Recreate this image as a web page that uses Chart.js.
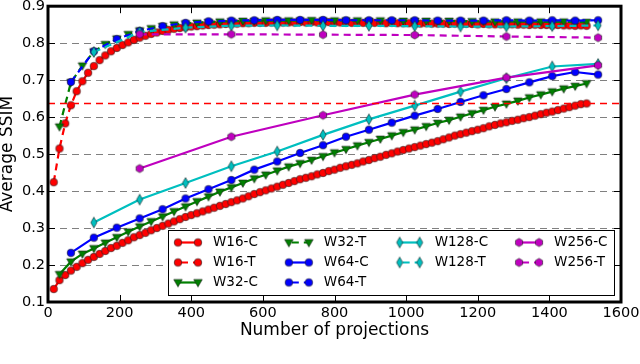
<!DOCTYPE html>
<html lang="en">
<head>
<meta charset="UTF-8">
<title>Average SSIM vs number of projections</title>
<script src="https://cdn.jsdelivr.net/npm/chart.js"></script>
<style>
  html, body { margin: 0; padding: 0; background: #fff; }
  #wrap { width: 640px; height: 364px; }
</style>
</head>
<body>
<div id="wrap"><canvas id="chart" width="640" height="364"></canvas></div>
<script>
// ---- data ----
const xTickValues = [0, 200, 400, 600, 800, 1000, 1200, 1400, 1600];
const xTickLabels = ['0', '200', '400', '600', '800', '1000', '1200', '1400', '1600'];
const yTickValues = [0.1, 0.2, 0.3, 0.4, 0.5, 0.6, 0.7, 0.8, 0.9];
const yTickLabels = ['0.1', '0.2', '0.3', '0.4', '0.5', '0.6', '0.7', '0.8', '0.9'];

const proj16 = [
  16, 32, 48, 64, 80, 96, 112, 128, 144, 160, 176, 192, 208, 224, 240, 256,
  272, 288, 304, 320, 336, 352, 368, 384, 400, 416, 432, 448, 464, 480, 496, 512,
  528, 544, 560, 576, 592, 608, 624, 640, 656, 672, 688, 704, 720, 736, 752, 768,
  784, 800, 816, 832, 848, 864, 880, 896, 912, 928, 944, 960, 976, 992, 1008, 1024,
  1040, 1056, 1072, 1088, 1104, 1120, 1136, 1152, 1168, 1184, 1200, 1216, 1232, 1248, 1264, 1280,
  1296, 1312, 1328, 1344, 1360, 1376, 1392, 1408, 1424, 1440, 1456, 1472, 1488, 1504
];
const w16C = [
  0.135, 0.159, 0.173, 0.185, 0.195, 0.205, 0.214, 0.222, 0.230, 0.238, 0.246, 0.252, 0.260, 0.267, 0.275, 0.281,
  0.287, 0.294, 0.300, 0.306, 0.312, 0.318, 0.324, 0.330, 0.335, 0.340, 0.345, 0.350, 0.355, 0.360, 0.365, 0.370,
  0.375, 0.380, 0.386, 0.392, 0.397, 0.402, 0.407, 0.412, 0.417, 0.422, 0.427, 0.432, 0.436, 0.440, 0.445, 0.449,
  0.454, 0.458, 0.463, 0.467, 0.471, 0.475, 0.480, 0.484, 0.489, 0.493, 0.498, 0.502, 0.507, 0.511, 0.515, 0.519,
  0.523, 0.527, 0.531, 0.535, 0.540, 0.545, 0.550, 0.554, 0.558, 0.562, 0.566, 0.570, 0.575, 0.579, 0.583, 0.586,
  0.590, 0.593, 0.597, 0.600, 0.604, 0.608, 0.612, 0.615, 0.619, 0.623, 0.627, 0.631, 0.635, 0.637
];
const w16T = [
  0.424, 0.515, 0.583, 0.632, 0.670, 0.697, 0.720, 0.738, 0.754, 0.767, 0.778, 0.787, 0.795, 0.802, 0.809, 0.815,
  0.820, 0.825, 0.829, 0.833, 0.836, 0.839, 0.841, 0.843, 0.845, 0.846, 0.848, 0.849, 0.850, 0.851, 0.852, 0.853,
  0.853, 0.854, 0.854, 0.855, 0.855, 0.855, 0.856, 0.856, 0.856, 0.856, 0.856, 0.857, 0.856, 0.857, 0.856, 0.856,
  0.857, 0.856, 0.856, 0.856, 0.855, 0.856, 0.855, 0.855, 0.855, 0.855, 0.854, 0.855, 0.854, 0.854, 0.854, 0.854,
  0.853, 0.854, 0.853, 0.853, 0.853, 0.852, 0.853, 0.852, 0.852, 0.852, 0.851, 0.852, 0.851, 0.851, 0.851, 0.850,
  0.851, 0.850, 0.850, 0.849, 0.850, 0.849, 0.849, 0.848, 0.849, 0.848, 0.848, 0.847, 0.848, 0.847
];

const proj32 = [
  32, 64, 96, 128, 160, 192, 224, 256, 288, 320, 352, 384, 416, 448, 480, 512,
  544, 576, 608, 640, 672, 704, 736, 768, 800, 832, 864, 896, 928, 960, 992, 1024,
  1056, 1088, 1120, 1152, 1184, 1216, 1248, 1280, 1312, 1344, 1376, 1408, 1440, 1472, 1504
];
const w32C = [
  0.175, 0.209, 0.230, 0.245, 0.260, 0.275, 0.290, 0.304, 0.318, 0.331, 0.345, 0.358, 0.372, 0.385, 0.398, 0.410,
  0.422, 0.434, 0.444, 0.455, 0.466, 0.475, 0.484, 0.494, 0.504, 0.513, 0.523, 0.532, 0.541, 0.550, 0.559, 0.566,
  0.575, 0.584, 0.592, 0.601, 0.610, 0.619, 0.628, 0.636, 0.644, 0.653, 0.661, 0.669, 0.677, 0.684, 0.691
];
const w32T = [
  0.574, 0.694, 0.739, 0.777, 0.797, 0.812, 0.824, 0.834, 0.840, 0.846, 0.850, 0.853, 0.855, 0.857, 0.858, 0.859,
  0.860, 0.860, 0.861, 0.861, 0.861, 0.861, 0.862, 0.861, 0.861, 0.861, 0.861, 0.860, 0.861, 0.860, 0.860, 0.860,
  0.860, 0.859, 0.860, 0.859, 0.859, 0.859, 0.858, 0.859, 0.858, 0.858, 0.858, 0.857, 0.858, 0.857, 0.857
];

const proj64 = [64, 128, 192, 256, 320, 384, 448, 512, 576, 640, 704, 768,
  832, 896, 960, 1024, 1088, 1152, 1216, 1280, 1344, 1408, 1472, 1536];
const w64C = [0.233, 0.274, 0.301, 0.326, 0.351, 0.380, 0.405, 0.430, 0.458, 0.480, 0.503, 0.524,
  0.547, 0.566, 0.585, 0.604, 0.622, 0.641, 0.659, 0.676, 0.694, 0.711, 0.722, 0.715];
const w64T = [0.695, 0.778, 0.811, 0.833, 0.846, 0.855, 0.859, 0.861, 0.862, 0.863, 0.863, 0.863,
  0.862, 0.862, 0.862, 0.862, 0.861, 0.861, 0.861, 0.862, 0.861, 0.862, 0.861, 0.862];

const proj128 = [128, 256, 384, 512, 640, 768, 896, 1024, 1152, 1280, 1408, 1536];
const w128C = [0.315, 0.377, 0.422, 0.467, 0.507, 0.552, 0.594, 0.631, 0.669, 0.705, 0.737, 0.744];
const w128T = [0.776, 0.830, 0.842, 0.847, 0.848, 0.847, 0.847, 0.846, 0.845, 0.845, 0.846, 0.848];

const proj256 = [256, 512, 768, 1024, 1280, 1536];
const w256C = [0.461, 0.547, 0.605, 0.661, 0.707, 0.740];
const w256T = [0.824, 0.824, 0.823, 0.822, 0.818, 0.815];

// horizontal reference line (final W16-C value)
const refX = [0, 1600];
const refY = [0.637, 0.637];

// ---- styling ----
const series = [
  { label: 'W16-C', xs: proj16, ys: w16C, color: '#ff0000', dashed: false, marker: 'circle' },
  { label: 'W16-T', xs: proj16, ys: w16T, color: '#ff0000', dashed: true, marker: 'circle' },
  { label: 'W32-C', xs: proj32, ys: w32C, color: '#008000', dashed: false, marker: 'tridown' },
  { label: 'W32-T', xs: proj32, ys: w32T, color: '#008000', dashed: true, marker: 'tridown' },
  { label: 'W64-C', xs: proj64, ys: w64C, color: '#0000ff', dashed: false, marker: 'circle' },
  { label: 'W64-T', xs: proj64, ys: w64T, color: '#0000ff', dashed: true, marker: 'circle' },
  { label: 'W128-C', xs: proj128, ys: w128C, color: '#00bfbf', dashed: false, marker: 'diamond' },
  { label: 'W128-T', xs: proj128, ys: w128T, color: '#00bfbf', dashed: true, marker: 'diamond' },
  { label: 'W256-C', xs: proj256, ys: w256C, color: '#bf00bf', dashed: false, marker: 'hexagon' },
  { label: 'W256-T', xs: proj256, ys: w256T, color: '#bf00bf', dashed: true, marker: 'hexagon' }
];
const legendColumns = [[0, 1, 2], [3, 4, 5], [6, 7], [8, 9]];
const DASH = [7, 5];
const FONT = '"DejaVu Sans", "Liberation Sans", sans-serif';

function makeMarker(shape, color) {
  const c = document.createElement('canvas');
  c.width = 14; c.height = 14;
  const g = c.getContext('2d');
  g.translate(7, 7);
  g.beginPath();
  if (shape === 'circle') {
    g.arc(0, 0, 3.8, 0, Math.PI * 2);
  } else if (shape === 'tridown') {
    g.moveTo(-4.3, -3.0); g.lineTo(4.3, -3.0); g.lineTo(0, 4.4); g.closePath();
  } else if (shape === 'diamond') {
    g.moveTo(0, -5.4); g.lineTo(3.1, 0); g.lineTo(0, 5.4); g.lineTo(-3.1, 0); g.closePath();
  } else {
    for (let k = 0; k < 6; k++) {
      const a = -Math.PI / 2 + k * Math.PI / 3;
      const px = 4.1 * Math.cos(a), py = 4.1 * Math.sin(a);
      if (k === 0) g.moveTo(px, py); else g.lineTo(px, py);
    }
    g.closePath();
  }
  g.fillStyle = color;
  g.fill();
  g.lineWidth = 0.7;
  g.strokeStyle = 'rgba(30,30,30,0.85)';
  g.stroke();
  return c;
}

const datasets = series.map((s, i) => ({
  label: s.label,
  data: s.xs.map((x, j) => ({ x: x, y: s.ys[j] })),
  borderColor: s.color,
  backgroundColor: s.color,
  borderWidth: 2.2,
  borderDash: s.dashed ? DASH : [],
  pointStyle: makeMarker(s.marker, s.color),
  pointRadius: 4,
  pointHoverRadius: 4,
  tension: 0,
  fill: false,
  order: -i
}));
datasets.push({
  label: 'ref',
  data: refX.map((x, j) => ({ x: x, y: refY[j] })),
  borderColor: '#ff0000',
  borderWidth: 1.6,
  borderDash: DASH,
  pointRadius: 0,
  fill: false,
  order: -20
});

// frame, inward tick marks and the matplotlib-like legend
const decor = {
  id: 'decor',
  afterDraw(chart) {
    const { ctx, chartArea: a, scales } = chart;
    ctx.save();
    ctx.strokeStyle = '#000';
    ctx.lineWidth = 1;
    ctx.beginPath();
    xTickValues.forEach(v => {
      const px = Math.round(scales.x.getPixelForValue(v)) + 0.5;
      ctx.moveTo(px, a.bottom); ctx.lineTo(px, a.bottom - 7);
      ctx.moveTo(px, a.top); ctx.lineTo(px, a.top + 7);
    });
    yTickValues.forEach(v => {
      const py = Math.round(scales.y.getPixelForValue(v)) + 0.5;
      ctx.moveTo(a.left, py); ctx.lineTo(a.left + 7, py);
      ctx.moveTo(a.right, py); ctx.lineTo(a.right - 7, py);
    });
    ctx.stroke();
    ctx.lineWidth = 3;
    ctx.strokeRect(a.left, a.top, a.right - a.left, a.bottom - a.top);

    // legend
    const box = { x: 168.5, y: 230.5, w: 446, h: 65 };
    ctx.fillStyle = '#fff';
    ctx.fillRect(box.x, box.y, box.w, box.h);
    ctx.lineWidth = 1;
    ctx.strokeStyle = '#000';
    ctx.strokeRect(box.x, box.y, box.w, box.h);
    ctx.font = '13.5px ' + FONT;
    ctx.textBaseline = 'middle';
    ctx.textAlign = 'left';
    let cx = 178;
    legendColumns.forEach(col => {
      let maxW = 0;
      col.forEach((idx, row) => {
        const ds = chart.data.datasets[idx];
        const y = 242.5 + row * 20;
        ctx.save();
        ctx.strokeStyle = ds.borderColor;
        ctx.lineWidth = ds.borderWidth;
        ctx.setLineDash(ds.borderDash);
        ctx.lineDashOffset = ds.borderDash.length ? -3 : 0;
        ctx.beginPath();
        ctx.moveTo(cx, y); ctx.lineTo(cx + 20, y);
        ctx.stroke();
        ctx.restore();
        const m = ds.pointStyle;
        ctx.drawImage(m, cx - m.width / 2, y - m.height / 2);
        ctx.drawImage(m, cx + 20 - m.width / 2, y - m.height / 2);
        ctx.fillStyle = '#000';
        ctx.fillText(ds.label, cx + 35, y);
        maxW = Math.max(maxW, ctx.measureText(ds.label).width);
      });
      cx += 35 + maxW + 31;
    });
    ctx.restore();
  }
};

new Chart(document.getElementById('chart'), {
  type: 'line',
  data: { datasets: datasets },
  options: {
    responsive: false,
    devicePixelRatio: 1,
    animation: false,
    events: [],
    layout: { padding: { left: 0, top: 6, right: 19, bottom: 0 } },
    plugins: { legend: { display: false }, tooltip: { enabled: false } },
    scales: {
      x: {
        type: 'linear',
        min: 0,
        max: 1600,
        afterBuildTicks: s => { s.ticks = xTickValues.map(v => ({ value: v })); },
        afterFit: s => { s.height = 62; s.paddingLeft = 0; s.paddingRight = 0; },
        ticks: {
          padding: 3,
          color: '#000',
          font: { family: FONT, size: 14.5 },
          maxRotation: 0,
          callback: (v, i) => xTickLabels[i]
        },
        grid: { display: false, drawTicks: false },
        border: { display: false },
        title: {
          display: true,
          text: 'Number of projections',
          color: '#000',
          font: { family: FONT, size: 17, lineHeight: 1.0 },
          padding: { top: 0, bottom: 24.5 }
        }
      },
      y: {
        type: 'linear',
        min: 0.1,
        max: 0.9,
        afterBuildTicks: s => { s.ticks = yTickValues.map(v => ({ value: v })); },
        afterFit: s => { s.width = 48; s.paddingTop = 0; s.paddingBottom = 0; },
        ticks: {
          padding: 3,
          color: '#000',
          font: { family: FONT, size: 14.5 },
          callback: (v, i) => yTickLabels[i]
        },
        grid: { color: '#808080', lineWidth: 1, drawTicks: false },
        border: { display: false, dash: [7, 5] },
        title: {
          display: true,
          text: 'Average SSIM',
          color: '#000',
          font: { family: FONT, size: 17, lineHeight: 1.0 },
          padding: { top: -1, bottom: 0 }
        }
      }
    }
  },
  plugins: [decor]
});
</script>
</body>
</html>
